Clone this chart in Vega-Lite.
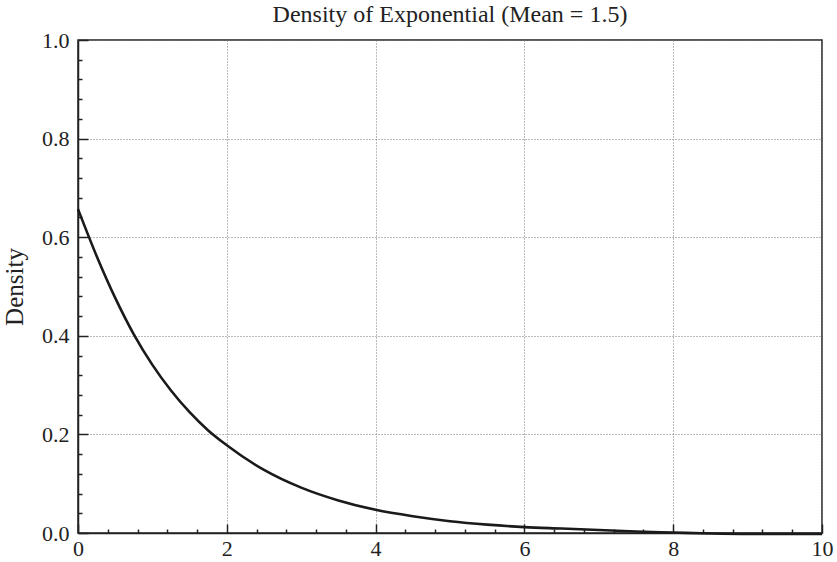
{
  "$schema": "https://vega.github.io/schema/vega-lite/v6.json",
  "autosize": "none",
  "width": 744,
  "height": 493,
  "padding": {"left": 78, "top": 40, "right": 15, "bottom": 29},
  "background": "white",
  "title": {"text": "Density of Exponential (Mean = 1.5)", "font": "Liberation Serif", "fontSize": 24, "fontWeight": "normal", "color": "#222", "frame": "group", "offset": 2},
  "config": {
    "view": {"stroke": "#222", "strokeWidth": 1.5},
    "axis": {"labelFont": "Liberation Serif", "titleFont": "Liberation Serif", "labelColor": "#222", "titleColor": "#222", "titleFontWeight": "normal"}
  },
  "data": {"values": [
    {"x": 0, "density": 0.657},
    {"x": 0.25, "density": 0.562},
    {"x": 0.5, "density": 0.477},
    {"x": 0.75, "density": 0.403},
    {"x": 1, "density": 0.341},
    {"x": 1.25, "density": 0.289},
    {"x": 1.5, "density": 0.245},
    {"x": 1.75, "density": 0.208},
    {"x": 2, "density": 0.178},
    {"x": 2.5, "density": 0.128},
    {"x": 3, "density": 0.092},
    {"x": 3.5, "density": 0.066},
    {"x": 4, "density": 0.047},
    {"x": 4.5, "density": 0.034},
    {"x": 5, "density": 0.024},
    {"x": 5.5, "density": 0.017},
    {"x": 6, "density": 0.012},
    {"x": 6.5, "density": 0.009},
    {"x": 7, "density": 0.006},
    {"x": 7.5, "density": 0.003},
    {"x": 8, "density": 0.001},
    {"x": 8.5, "density": -0.001},
    {"x": 9, "density": -0.002},
    {"x": 9.5, "density": -0.002},
    {"x": 10, "density": -0.002}
  ]},
  "layer": [
    {
      "mark": {"type": "line", "color": "#1a1a1a", "strokeWidth": 2.6, "interpolate": "monotone", "clip": false},
      "encoding": {
        "x": {"field": "x", "type": "quantitative", "scale": {"domain": [0, 10], "nice": false, "zero": false},
          "axis": {"orient": "bottom", "values": [0, 2, 4, 6, 8, 10], "title": null, "labelFontSize": 22, "labelPadding": 14, "tickSize": -9, "tickColor": "#222", "tickWidth": 1.5, "domainColor": "#222", "domainWidth": 1.5, "grid": true, "gridColor": "#777", "gridDash": [1, 2], "gridWidth": 1, "labelFlush": false}},
        "y": {"field": "density", "type": "quantitative", "scale": {"domain": [0, 1], "nice": false, "zero": false},
          "axis": {"orient": "left", "values": [0, 0.2, 0.4, 0.6, 0.8, 1.0], "format": ".1f", "title": "Density", "titleFontSize": 25, "titlePadding": 14, "labelFontSize": 22, "labelPadding": 19, "tickSize": -10, "tickColor": "#222", "tickWidth": 1.5, "domainColor": "#222", "domainWidth": 1.5, "grid": true, "gridColor": "#777", "gridDash": [1, 2], "gridWidth": 1, "labelFlush": false}}
      }
    },
    {
      "mark": {"type": "line", "strokeOpacity": 0},
      "encoding": {
        "x": {"field": "x", "type": "quantitative",
          "axis": {"orient": "bottom", "values": [0.4, 0.8, 1.2, 1.6, 2.4, 2.8, 3.2, 3.6, 4.4, 4.8, 5.2, 5.6, 6.4, 6.8, 7.2, 7.6, 8.4, 8.8, 9.2, 9.6], "labels": false, "title": null, "grid": false, "domain": false, "tickSize": -4, "tickColor": "#222", "tickWidth": 1.5}},
        "y": {"field": "density", "type": "quantitative",
          "axis": {"orient": "left", "values": [0.04, 0.08, 0.12, 0.16, 0.24, 0.28, 0.32, 0.36, 0.44, 0.48, 0.52, 0.56, 0.64, 0.68, 0.72, 0.76, 0.84, 0.88, 0.92, 0.96], "labels": false, "title": null, "grid": false, "domain": false, "tickSize": -4, "tickColor": "#222", "tickWidth": 1.5}}
      }
    }
  ],
  "resolve": {"axis": {"x": "independent", "y": "independent"}}
}
